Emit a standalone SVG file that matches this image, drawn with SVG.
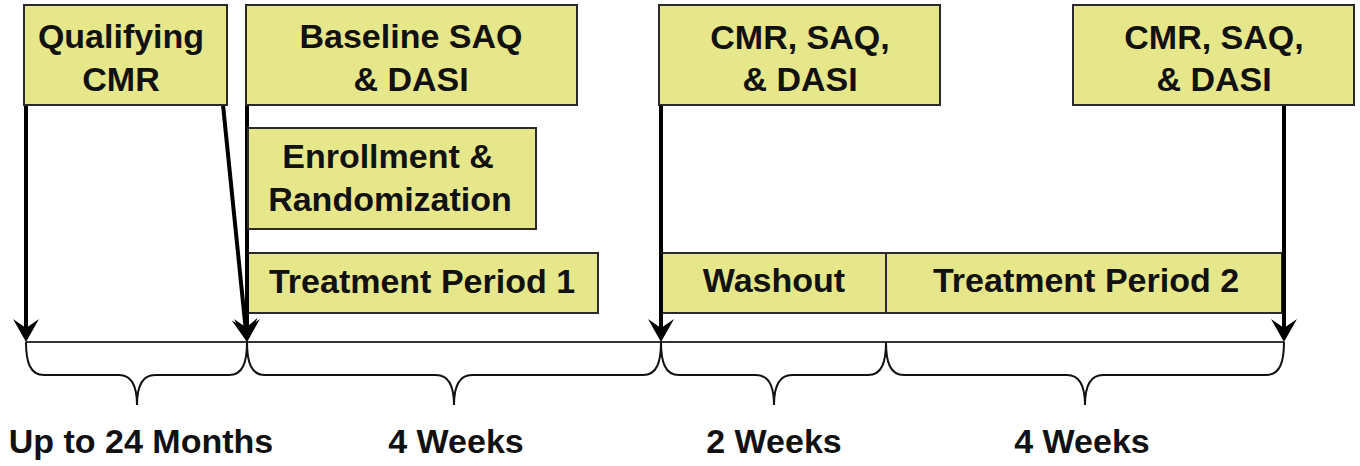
<svg xmlns="http://www.w3.org/2000/svg" width="1360" height="466" viewBox="0 0 1360 466">
<style>
.box{fill:#e6e68b;stroke:#2a2a2a;stroke-width:2}
.t{font-family:"Liberation Sans",Arial,Helvetica,sans-serif;font-weight:bold;font-size:34px;fill:#111;text-anchor:middle}
.arr{stroke:#000;stroke-width:4;fill:none}
.axis{stroke:#333;stroke-width:2;fill:none}
.brace{stroke:#111;stroke-width:2;fill:none}
</style>
<defs>
<marker id="ah" markerUnits="userSpaceOnUse" viewBox="-24 -14 36 28" refX="0" refY="0" markerWidth="36" markerHeight="28" orient="auto" overflow="visible">
<path d="M10,0 L-13,-13 L-4,0 L-13,13 Z" fill="#000"/>
</marker>
</defs>
<rect width="1360" height="466" fill="#fff"/>
<g id="connectors">
<line class="axis" x1="26" y1="342" x2="1284" y2="342"/>
<line class="arr" x1="26" y1="105" x2="26" y2="332" marker-end="url(#ah)"/>
<line class="arr" x1="223" y1="105" x2="246" y2="332" marker-end="url(#ah)"/>
<line class="arr" x1="247" y1="105" x2="247" y2="332" marker-end="url(#ah)"/>
<line class="arr" x1="661" y1="105" x2="661" y2="332" marker-end="url(#ah)"/>
<line class="arr" x1="1284" y1="105" x2="1284" y2="332" marker-end="url(#ah)"/>
<path class="brace" d="M26,342 C26,362 30,375 44,375 L119,375 C131,375 137,385 137,405 C137,385 143,375 155,375 L229,375 C243,375 247,362 247,342"/>
<path class="brace" d="M247,342 C247,362 251,375 265,375 L436,375 C448,375 454,385 454,405 C454,385 460,375 472,375 L643,375 C657,375 661,362 661,342"/>
<path class="brace" d="M661,342 C661,362 665,375 679,375 L756,375 C768,375 774,385 774,405 C774,385 780,375 792,375 L868,375 C882,375 886,362 886,342"/>
<path class="brace" d="M886,342 C886,362 890,375 904,375 L1067,375 C1079,375 1085,385 1085,405 C1085,385 1091,375 1103,375 L1266,375 C1280,375 1284,362 1284,342"/>
</g>
<g id="qualifying-cmr">
<rect class="box" x="24" y="5" width="203" height="100"/>
<text class="t" x="121" y="48">Qualifying</text>
<text class="t" x="121" y="91">CMR</text>
</g>
<g id="baseline">
<rect class="box" x="246" y="5" width="331" height="100"/>
<text class="t" x="411" y="48">Baseline SAQ</text>
<text class="t" x="411" y="91">&amp; DASI</text>
</g>
<g id="enrollment">
<rect class="box" x="248" y="128" width="288" height="101"/>
<text class="t" x="388" y="168">Enrollment &amp;</text>
<text class="t" x="390" y="211">Randomization</text>
</g>
<g id="treatment1">
<rect class="box" x="248" y="253" width="350" height="60"/>
<text class="t" x="422" y="293">Treatment Period 1</text>
</g>
<g id="cmr-mid">
<rect class="box" x="659" y="5" width="281" height="100"/>
<text class="t" x="800" y="49">CMR, SAQ,</text>
<text class="t" x="800" y="91">&amp; DASI</text>
</g>
<g id="cmr-right">
<rect class="box" x="1073" y="5" width="281" height="100"/>
<text class="t" x="1214" y="49">CMR, SAQ,</text>
<text class="t" x="1214" y="91">&amp; DASI</text>
</g>
<g id="washout">
<rect class="box" x="662" y="253" width="224" height="60"/>
<text class="t" x="774" y="292">Washout</text>
</g>
<g id="treatment2">
<rect class="box" x="886" y="253" width="396" height="60"/>
<text class="t" x="1086" y="292">Treatment Period 2</text>
</g>
<line class="arr" x1="247" y1="253" x2="247" y2="313"/>
<line class="arr" x1="661" y1="253" x2="661" y2="313"/>
<line class="arr" x1="1284" y1="253" x2="1284" y2="313"/>
<g id="labels">
<text class="t" x="141" y="453">Up to 24 Months</text>
<text class="t" x="456" y="453">4 Weeks</text>
<text class="t" x="774" y="453">2 Weeks</text>
<text class="t" x="1082" y="453">4 Weeks</text>
</g>
</svg>
